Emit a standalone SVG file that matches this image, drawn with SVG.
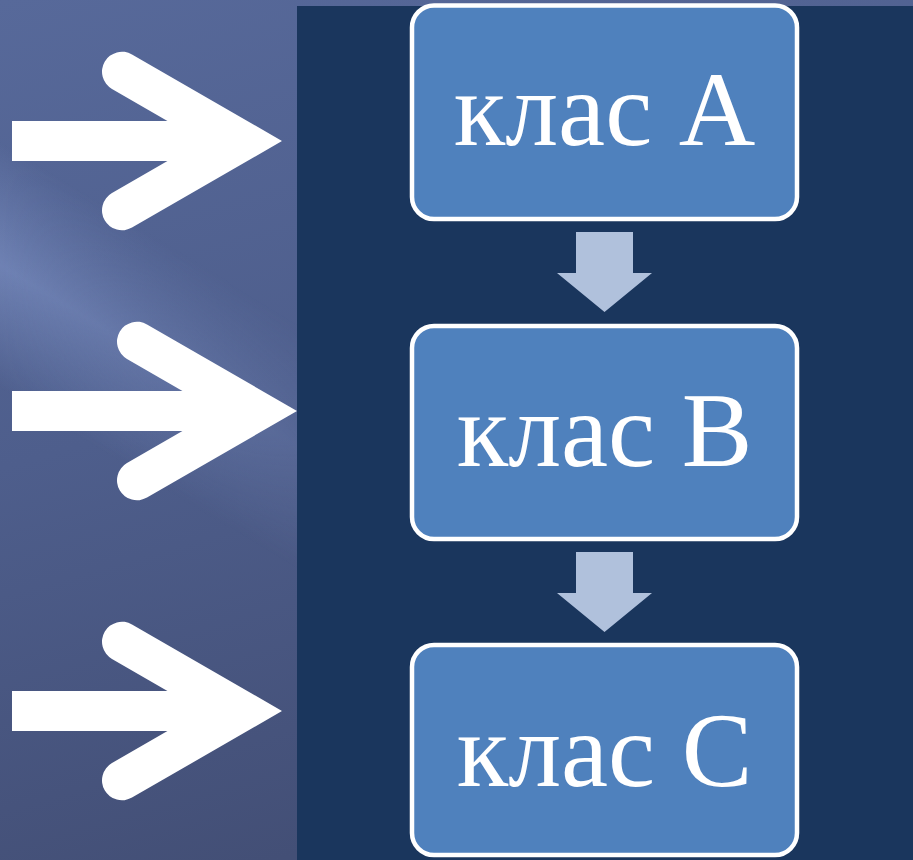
<svg xmlns="http://www.w3.org/2000/svg" width="913" height="860" viewBox="0 0 913 860">
  <defs>
    <linearGradient id="bg" x1="0" y1="0" x2="0.3" y2="1">
      <stop offset="0" stop-color="#57699a"/>
      <stop offset="0.5" stop-color="#4e5e8c"/>
      <stop offset="1" stop-color="#434f76"/>
    </linearGradient>
    <linearGradient id="band" gradientUnits="userSpaceOnUse" x1="55" y1="175" x2="-55" y2="355">
      <stop offset="0" stop-color="#9ab0e6" stop-opacity="0"/>
      <stop offset="0.5" stop-color="#9ab0e6" stop-opacity="0.4"/>
      <stop offset="1" stop-color="#9ab0e6" stop-opacity="0"/>
    </linearGradient>
    <linearGradient id="fadeX" x1="0" y1="0" x2="1" y2="0">
      <stop offset="0" stop-color="#fff" stop-opacity="1"/>
      <stop offset="1" stop-color="#fff" stop-opacity="0.35"/>
    </linearGradient>
    <mask id="fadeMask" maskUnits="userSpaceOnUse" x="0" y="0" width="300" height="860">
      <rect x="0" y="0" width="300" height="860" fill="url(#fadeX)"/>
    </mask>
    <style>
      .box { fill: #4f81bd; stroke: #ffffff; stroke-width: 4.5; }
      .lbl { font-family: "Liberation Serif", "Times New Roman", serif; font-size: 106px; fill: #ffffff; text-anchor: middle; }
      .down { fill: #b0c1dc; }
      .chev { fill: none; stroke: #ffffff; stroke-width: 40; stroke-linecap: round; stroke-linejoin: miter; stroke-miterlimit: 4; }
      .shaft { fill: #ffffff; }
    </style>
  </defs>

  <rect x="0" y="0" width="913" height="860" fill="url(#bg)"/>
  <rect x="0" y="0" width="300" height="860" fill="url(#band)" mask="url(#fadeMask)"/>
  <rect x="297" y="6" width="616" height="854" fill="#1a365d"/>

  <g id="side-arrows">
    <g id="arrow1">
      <rect class="shaft" x="12" y="121" width="235" height="40"/>
      <polyline class="chev" points="122,71.7 242,141 122,210.3"/>
    </g>
    <g id="arrow2">
      <rect class="shaft" x="12" y="391" width="250" height="40"/>
      <polyline class="chev" points="137,341.7 257,411 137,480.3"/>
    </g>
    <g id="arrow3">
      <rect class="shaft" x="12" y="691" width="235" height="40"/>
      <polyline class="chev" points="122,641.7 242,711 122,780.3"/>
    </g>
  </g>

  <g id="connectors">
    <polygon class="down" points="576,232 633,232 633,273 652,273 604.5,312 557,273 576,273"/>
    <polygon class="down" points="576,552 633,552 633,593 652,593 604.5,632 557,593 576,593"/>
  </g>

  <g id="node-a">
    <rect class="box" x="412" y="5.5" width="385" height="213.5" rx="22"/>
    <text class="lbl" x="604.5" y="145">клас A</text>
  </g>
  <g id="node-b">
    <rect class="box" x="412" y="326" width="385" height="213" rx="22"/>
    <text class="lbl" x="604.5" y="466">клас B</text>
  </g>
  <g id="node-c">
    <rect class="box" x="412" y="645" width="385" height="210" rx="22"/>
    <text class="lbl" x="604.5" y="785.5">клас C</text>
  </g>
</svg>
